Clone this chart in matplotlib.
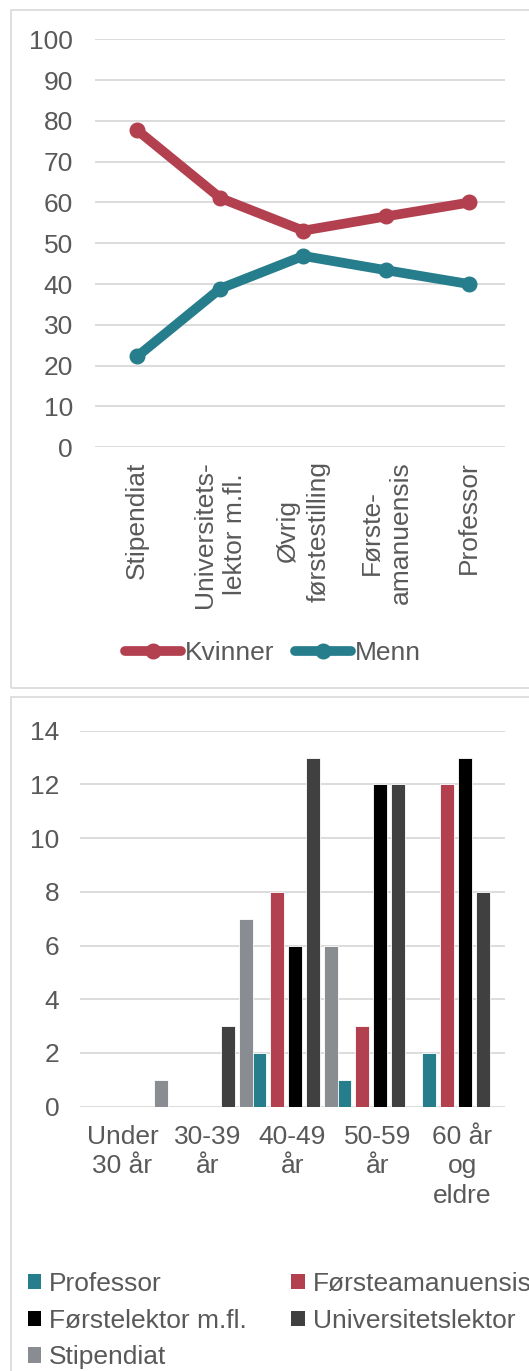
import matplotlib.pyplot as plt
from matplotlib.lines import Line2D
from matplotlib.patches import Patch, Rectangle
import numpy as np

plt.rcParams['font.family'] = ['Liberation Sans', 'DejaVu Sans']

# top chart: share (%) of women / men per position
stillinger = ["Stipendiat", "Universitets-\nlektor m.fl.", "Øvrig\nførstestilling",
              "Første-\namanuensis", "Professor"]
kvinner = [77.7, 61.1, 53.1, 56.6, 60.0]
menn = [22.3, 38.9, 46.9, 43.4, 40.0]

# bottom chart: count per age group and position
aldersgrupper = ["Under\n30 år", "30-39\når", "40-49\når", "50-59\når", "60 år\nog\neldre"]
professor = [0, 0, 2, 1, 2]
forsteamanuensis = [0, 0, 8, 3, 12]
forstelektor = [0, 0, 6, 12, 13]
universitetslektor = [0, 3, 13, 12, 8]
stipendiat = [1, 7, 6, 0, 0]

RED = "#B3404F"
TEAL = "#267D8B"
BLACK = "#000000"
DGRAY = "#404040"
GRAY = "#898C90"
TXT = "#595959"
GRID = "#D9D9D9"
FS = 19

W, H = 529, 1371
fig = plt.figure(figsize=(W / 100, H / 100), dpi=100)

def fx(px):
    return px / W

def fy(py):
    return 1 - py / H

# panel frames
fig.patches.append(Rectangle((fx(11), fy(688)), fx(540), fy(10) - fy(688), transform=fig.transFigure,
                             fill=False, edgecolor=GRID, linewidth=1.2))
fig.patches.append(Rectangle((fx(11), fy(1380)), fx(540), fy(697) - fy(1380), transform=fig.transFigure,
                             fill=False, edgecolor=GRID, linewidth=1.2))

# ---- line chart
ax1 = fig.add_axes([fx(95), fy(447.3), fx(505) - fx(95), fy(39.3) - fy(447.3)])
x = np.arange(len(stillinger))
ax1.plot(x, kvinner, color=RED, lw=7, marker="o", ms=10.5, solid_capstyle="round", zorder=3)
ax1.plot(x, menn, color=TEAL, lw=7, marker="o", ms=10.5, solid_capstyle="round", zorder=3)
ax1.set_ylim(0, 100)
ax1.set_xlim(-0.51, 4.43)
ax1.set_yticks(range(0, 101, 10))
ax1.set_xticks(x)
ax1.set_xticklabels(stillinger, rotation=90, va="top", ha="center", multialignment="center",
                    linespacing=1.3)
ax1.grid(axis="y", color=GRID, lw=1.3)
ax1.set_axisbelow(True)
for s in ax1.spines.values():
    s.set_visible(False)
ax1.tick_params(axis="both", length=0, labelsize=FS, colors=TXT)
ax1.tick_params(axis="y", pad=16)
ax1.tick_params(axis="x", pad=10)

handles = [Line2D([], [], color=RED, lw=7, marker="o", ms=10.5, solid_capstyle="round"),
           Line2D([], [], color=TEAL, lw=7, marker="o", ms=10.5, solid_capstyle="round")]
fig.legend(handles, ["Kvinner", "Menn"], loc="center", bbox_to_anchor=(fx(273), fy(653)),
           ncol=2, frameon=False, fontsize=FS, labelcolor=TXT, handlelength=2.1,
           handletextpad=0.15, columnspacing=0.8, borderpad=0, borderaxespad=0)

# ---- bar chart
ax2 = fig.add_axes([fx(80), fy(1106.7), fx(505) - fx(80), fy(730.7) - fy(1106.7)])
serier = [("Professor", professor, TEAL),
          ("Førsteamanuensis", forsteamanuensis, RED),
          ("Førstelektor m.fl.", forstelektor, BLACK),
          ("Universitetslektor", universitetslektor, DGRAY),
          ("Stipendiat", stipendiat, GRAY)]
xb = np.arange(len(aldersgrupper))
step = 18 / 85
bw = 14 / 85
for j, (navn, verdier, farge) in enumerate(serier):
    ax2.bar(xb + (j - 2) * step + 0.035, verdier, width=bw, color=farge,
            edgecolor="white", linewidth=0.6, zorder=3)
ax2.set_ylim(0, 14)
ax2.set_xlim(-0.5, 4.5)
ax2.set_yticks(range(0, 15, 2))
ax2.set_xticks(xb)
ax2.set_xticklabels(aldersgrupper, linespacing=1.3)
ax2.grid(axis="y", color=GRID, lw=1.3)
ax2.set_axisbelow(True)
for s in ax2.spines.values():
    s.set_visible(False)
ax2.tick_params(axis="both", length=0, labelsize=FS, colors=TXT)
ax2.tick_params(axis="y", pad=15)
ax2.tick_params(axis="x", pad=13)

order = [0, 2, 4, 1, 3]
bar_handles = [Patch(facecolor=serier[i][2]) for i in order]
bar_labels = [serier[i][0] for i in order]
fig.legend(bar_handles, bar_labels, loc="upper left", bbox_to_anchor=(fx(27.7), fy(1272)),
           ncol=2, frameon=False, fontsize=FS, labelcolor=TXT, handlelength=0.52,
           handleheight=0.52, handletextpad=0.28, columnspacing=1.7, labelspacing=0.48,
           borderpad=0, borderaxespad=0)

fig.savefig("out.png", dpi=100)
